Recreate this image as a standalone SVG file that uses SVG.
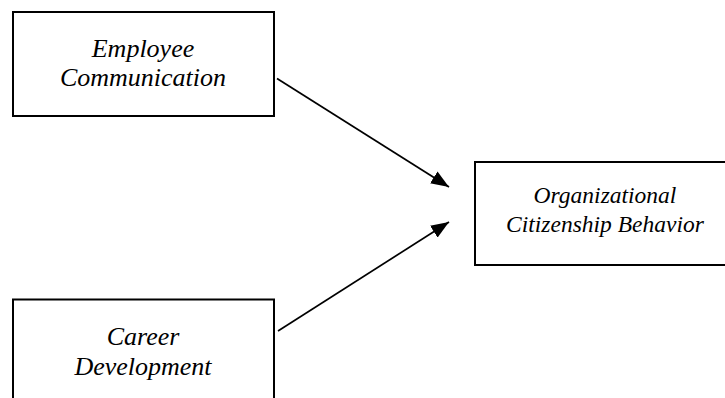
<svg xmlns="http://www.w3.org/2000/svg" width="725" height="398" viewBox="0 0 725 398">
  <style>
    .box { fill: #ffffff; stroke: #000000; stroke-width: 2; }
    .lbl { font-family: "Liberation Serif", "Times New Roman", serif; font-style: italic; fill: #000000; text-anchor: middle; }
    .big { font-size: 26px; }
    .mid { font-size: 23.5px; }
    .conn { stroke: #000000; stroke-width: 1.7; fill: none; }
  </style>
  <defs>
    <marker id="arrow" viewBox="0 0 18 14" refX="18" refY="7" markerWidth="18" markerHeight="14" markerUnits="userSpaceOnUse" orient="auto">
      <path d="M0,0 L18,7 L0,14 z" fill="#000000"/>
    </marker>
  </defs>
  <rect width="725" height="398" fill="#ffffff"/>
  <g id="node-employee-communication">
    <rect class="box" x="13" y="12" width="261" height="104"/>
    <text class="lbl big" x="143" y="57">Employee</text>
    <text class="lbl big" x="143" y="86">Communication</text>
  </g>
  <g id="node-career-development">
    <rect class="box" x="13" y="299.5" width="261" height="110"/>
    <text class="lbl big" x="143" y="345">Career</text>
    <text class="lbl big" x="143" y="375">Development</text>
  </g>
  <g id="node-ocb">
    <rect class="box" x="475" y="162" width="262" height="103"/>
    <text class="lbl mid" x="605" y="203">Organizational</text>
    <text class="lbl mid" x="605" y="232">Citizenship Behavior</text>
  </g>
  <g id="connectors">
    <line class="conn" x1="277" y1="78.5" x2="449" y2="187" marker-end="url(#arrow)"/>
    <line class="conn" x1="278" y1="331" x2="449" y2="222" marker-end="url(#arrow)"/>
  </g>
</svg>
